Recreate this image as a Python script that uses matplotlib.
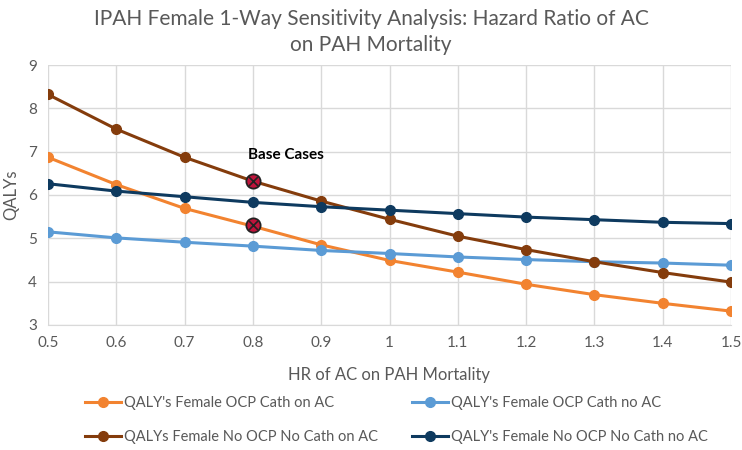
import matplotlib
matplotlib.use("Agg")
import matplotlib.pyplot as plt

hr = [0.5, 0.6, 0.7, 0.8, 0.9, 1.0, 1.1, 1.2, 1.3, 1.4, 1.5]
tick_labels = ["0.5", "0.6", "0.7", "0.8", "0.9", "1", "1.1", "1.2", "1.3", "1.4", "1.5"]

ocp_cath_on_ac = [6.87, 6.24, 5.69, 5.28, 4.85, 4.49, 4.22, 3.94, 3.70, 3.50, 3.32]
ocp_cath_no_ac = [5.15, 5.01, 4.91, 4.82, 4.72, 4.65, 4.57, 4.51, 4.46, 4.43, 4.38]
noocp_nocath_on_ac = [8.32, 7.52, 6.87, 6.32, 5.86, 5.44, 5.05, 4.74, 4.46, 4.21, 3.99]
noocp_nocath_no_ac = [6.26, 6.09, 5.96, 5.83, 5.73, 5.65, 5.57, 5.49, 5.43, 5.37, 5.34]

series_names = ["QALY's Female OCP Cath on AC", "QALY's Female OCP Cath no AC",
                "QALYs Female No OCP No Cath on AC", "QALY's Female No OCP No Cath no AC"]
series_colors = ["#F28330", "#5B9BD5", "#843C0C", "#0E3A5F"]

base_x = [0.8, 0.8]
base_y = [6.32, 5.30]

plt.rcParams['font.family'] = ['Lato', 'DejaVu Sans']
fig = plt.figure(figsize=(7.42, 4.5), dpi=100)
ax = fig.add_axes([48/742, 1-325/450, (731-48)/742, (325-65)/450])

all_series = [ocp_cath_on_ac, ocp_cath_no_ac, noocp_nocath_on_ac, noocp_nocath_no_ac]
handles = []
for ys, name, c in zip(all_series, series_names, series_colors):
    h, = ax.plot(hr, ys, color=c, lw=2.2, marker='o', ms=7, label=name, zorder=3)
    handles.append(h)

ax.scatter(base_x, base_y, s=105, marker='o', facecolor='#C0143C', edgecolor='#222222',
           linewidth=1.3, zorder=5)
ax.scatter(base_x, base_y, s=40, marker='x', color='#222222', linewidth=1.2, zorder=6)
ax.text(0.793, 6.93, "Base Cases", fontsize=11, fontweight='bold', color='black',
        ha='left', va='center')

ax.set_xlim(0.5, 1.5)
ax.set_ylim(3, 9)
ax.set_xticks(hr)
ax.set_xticklabels(tick_labels)
ax.set_yticks(range(3, 10))
ax.grid(True, color='#D9D9D9', lw=1)
ax.set_axisbelow(True)
for s in ['top', 'right', 'left']:
    ax.spines[s].set_visible(False)
ax.spines['bottom'].set_color('#D9D9D9')
ax.tick_params(length=0, colors='#595959', labelsize=11, pad=8)
ax.set_xlabel("HR of AC on PAH Mortality", fontsize=12, color='#595959', labelpad=12)
ax.set_ylabel("QALYs", fontsize=12, color='#595959', labelpad=6)

fig.suptitle("IPAH Female 1-Way Sensitivity Analysis: Hazard Ratio of AC\non PAH Mortality",
             y=0.98, fontsize=15, color='#595959', linespacing=1.4)

order = [0, 2, 1, 3]
leg = fig.legend([handles[i] for i in order], [series_names[i] for i in order],
                 loc='upper left', bbox_to_anchor=(85/742, 1-396/450), ncol=2, frameon=False,
                 fontsize=10.5, labelcolor='#595959', handlelength=2.5, handletextpad=0.2,
                 columnspacing=2.3, labelspacing=1.4, borderpad=0, borderaxespad=0)

fig.savefig("out.png", dpi=100)
